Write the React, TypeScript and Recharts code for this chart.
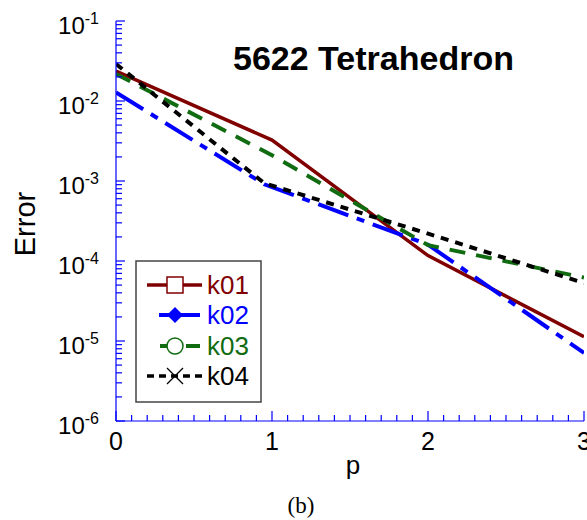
import React from 'react';
import { LineChart, Line, XAxis, YAxis } from 'recharts';

// ---- data ----
const pK01 = [0, 1, 2, 3];
const errK01 = [0.0237, 0.00325, 0.000117, 0.0000113];
const pK02 = [0, 0.95, 2, 3];
const errK02 = [0.0128, 0.00091, 0.00016, 0.0000071];
const pK03 = [0, 1, 2, 3];
const errK03 = [0.0218, 0.0021, 0.000158, 0.000062];
const pK04 = [0, 0.95, 2, 3];
const errK04 = [0.029, 0.00094, 0.00022, 0.000053];

const seriesNames = ['k01', 'k02', 'k03', 'k04'];
const yDecades = [-6, -5, -4, -3, -2, -1];
const title = '5622 Tetrahedron';
const xLabel = 'p';
const yLabel = 'Error';
const caption = '(b)';

const FONT = '"Liberation Sans", Arial, sans-serif';
const AXIS = '#0000ff';

const toData = (ps: number[], vs: number[]) => ps.map((p, i) => ({ p, v: vs[i] }));
const dK01 = toData(pK01, errK01);
const dK02 = toData(pK02, errK02);
const dK03 = toData(pK03, errK03);
const dK04 = toData(pK04, errK04);

const xTicks: number[] = [];
for (let i = 0; i <= 30; i++) xTicks.push(i / 10);

const yTicks: number[] = [];
yDecades.forEach((e) => {
  if (e === -1) {
    yTicks.push(Math.pow(10, e));
  } else {
    for (let k = 1; k <= 9; k++) yTicks.push(Number((k * Math.pow(10, e)).toPrecision(3)));
  }
});

const isMajorY = (v: number) => {
  const e = Math.round(Math.log10(v));
  return Math.abs(v - Math.pow(10, e)) / Math.pow(10, e) < 1e-6;
};
const isMajorX = (v: number) => Math.abs(v - Math.round(v)) < 1e-6;

const LeftTick = (props: any) => {
  const { x, y, payload } = props;
  const v = payload.value;
  const major = isMajorY(v);
  const e = Math.round(Math.log10(v));
  return (
    <g>
      <line x1={x} y1={y} x2={x + (major ? 9 : 6)} y2={y} stroke={AXIS} strokeWidth={1.2} />
      {major && (
        <text x={x - 17} y={y + 13} textAnchor="end" fontFamily={FONT} fontSize={24} fill="#000">
          <tspan>10</tspan>
          <tspan dy={-10} fontSize={16}>{`${e}`}</tspan>
        </text>
      )}
    </g>
  );
};

const RightTick = (props: any) => {
  const { x, y, payload } = props;
  const major = isMajorY(payload.value);
  return <line x1={x} y1={y} x2={x - (major ? 9 : 6)} y2={y} stroke={AXIS} strokeWidth={1.2} />;
};

const BottomTick = (props: any) => {
  const { x, y, payload } = props;
  const v = payload.value;
  const major = isMajorX(v);
  return (
    <g>
      <line x1={x} y1={y} x2={x} y2={y - (major ? 10 : 6)} stroke={AXIS} strokeWidth={1.2} />
      {major && (
        <text x={x} y={y + 29} textAnchor="middle" fontFamily={FONT} fontSize={25} fill="#000">
          {String(Math.round(v))}
        </text>
      )}
    </g>
  );
};

const TopTick = (props: any) => {
  const { x, y, payload } = props;
  const major = isMajorX(payload.value);
  return <line x1={x} y1={y} x2={x} y2={y + (major ? 10 : 6)} stroke={AXIS} strokeWidth={1.2} />;
};

const COLORS = ['#800000', '#0000ff', '#116b11', '#000000'];
const DASHES = [undefined, '32 9 8 9', '16 11', '8 7'];

const LegendOverlay = () => {
  const rows = [285, 315, 346, 376];
  const mx = 175;
  return (
    <g>
      <rect x={136} y={261} width={125} height={141} fill="#fff" stroke="#444" strokeWidth={1.5} />
      <line x1={147} y1={rows[0]} x2={202} y2={rows[0]} stroke={COLORS[0]} strokeWidth={3.5} />
      <rect x={mx - 8} y={rows[0] - 8} width={16} height={16} fill="#fff" stroke={COLORS[0]} strokeWidth={1.5} />
      <line x1={159} y1={rows[1]} x2={200} y2={rows[1]} stroke={COLORS[1]} strokeWidth={4} />
      <polygon points={`${mx},${rows[1] - 8} ${mx + 8},${rows[1]} ${mx},${rows[1] + 8} ${mx - 8},${rows[1]}`} fill={COLORS[1]} />
      <line x1={160} y1={rows[2]} x2={200} y2={rows[2]} stroke={COLORS[2]} strokeWidth={4} strokeDasharray="14 12 14" />
      <circle cx={mx} cy={rows[2]} r={8} fill="#fff" stroke={COLORS[2]} strokeWidth={1.5} />
      <line x1={147} y1={rows[3]} x2={202} y2={rows[3]} stroke={COLORS[3]} strokeWidth={3.5} strokeDasharray="7 5" />
      <line x1={mx - 8} y1={rows[3] - 8} x2={mx + 8} y2={rows[3] + 8} stroke={COLORS[3]} strokeWidth={1.3} />
      <line x1={mx - 8} y1={rows[3] + 8} x2={mx + 8} y2={rows[3] - 8} stroke={COLORS[3]} strokeWidth={1.3} />
      {seriesNames.map((n, i) => (
        <text key={n} x={207} y={rows[i] + 9} fontFamily={FONT} fontSize={26} fill={COLORS[i]}>
          {n}
        </text>
      ))}
    </g>
  );
};

export default function App() {
  return (
    <div style={{ position: 'absolute', left: 0, top: 0, width: 587, height: 520, background: '#fff' }}>
      <LineChart width={587} height={520} margin={{ top: 21, right: 3, bottom: 39, left: 0 }}>
        <XAxis
          dataKey="p"
          type="number"
          domain={[0, 3]}
          allowDataOverflow
          ticks={xTicks}
          interval={0}
          tickSize={0}
          tickMargin={0}
          height={60}
          tick={<BottomTick />}
          axisLine={{ stroke: AXIS, strokeWidth: 1.2 }}
          tickLine={false}
        />
        <XAxis
          xAxisId="top"
          orientation="top"
          dataKey="p"
          type="number"
          domain={[0, 3]}
          allowDataOverflow
          ticks={xTicks}
          interval={0}
          tickSize={0}
          tickMargin={0}
          height={0}
          tick={<TopTick />}
          axisLine={{ stroke: AXIS, strokeWidth: 1.2 }}
          tickLine={false}
        />
        <YAxis
          type="number"
          scale="log"
          domain={[1e-6, 1e-1]}
          allowDataOverflow
          ticks={yTicks}
          interval={0}
          tickSize={0}
          tickMargin={0}
          width={116}
          tick={<LeftTick />}
          axisLine={{ stroke: AXIS, strokeWidth: 1.2 }}
          tickLine={false}
        />
        <YAxis
          yAxisId="right"
          orientation="right"
          type="number"
          scale="log"
          domain={[1e-6, 1e-1]}
          allowDataOverflow
          ticks={yTicks}
          interval={0}
          tickSize={0}
          tickMargin={0}
          width={0}
          tick={<RightTick />}
          axisLine={{ stroke: AXIS, strokeWidth: 1.2 }}
          tickLine={false}
        />
        <Line data={dK01} dataKey="v" name={seriesNames[0]} stroke={COLORS[0]} strokeWidth={3.5} dot={false} isAnimationActive={false} />
        <Line data={dK02} dataKey="v" name={seriesNames[1]} stroke={COLORS[1]} strokeWidth={4} strokeDasharray={DASHES[1]} dot={false} isAnimationActive={false} />
        <Line data={dK03} dataKey="v" name={seriesNames[2]} stroke={COLORS[2]} strokeWidth={4} strokeDasharray={DASHES[2]} dot={false} isAnimationActive={false} />
        <Line data={dK04} dataKey="v" name={seriesNames[3]} stroke={COLORS[3]} strokeWidth={4} strokeDasharray={DASHES[3]} dot={false} isAnimationActive={false} />
      </LineChart>
      <svg width={587} height={520} style={{ position: 'absolute', left: 0, top: 0, pointerEvents: 'none' }}>
        <text x={233} y={70} fontFamily={FONT} fontWeight="bold" fontSize={34} fill="#000">{title}</text>
        <text x={25} y={224} transform="rotate(-90 25 224)" textAnchor="middle" dominantBaseline="central" fontFamily={FONT} fontSize={29} fill="#000">{yLabel}</text>
        <text x={353} y={474} textAnchor="middle" fontFamily={FONT} fontSize={26} fill="#000">{xLabel}</text>
        <text x={301} y={513} textAnchor="middle" fontFamily='"Liberation Serif", "Times New Roman", serif' fontSize={23} fill="#000">{caption}</text>
        <LegendOverlay />
      </svg>
    </div>
  );
}
